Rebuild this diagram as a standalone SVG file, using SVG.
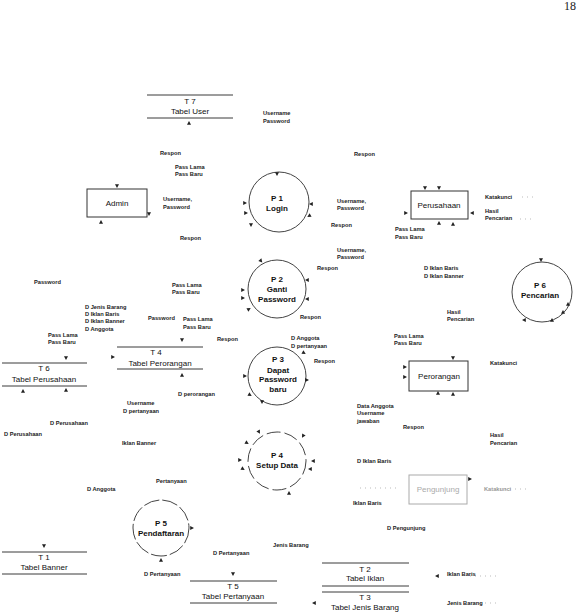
<svg xmlns="http://www.w3.org/2000/svg" width="587" height="613" viewBox="0 0 587 613">
<style>
.bg{fill:#fff}
.ln{stroke:#3a3a3a;stroke-width:1;fill:none}
.pc{stroke:#444;stroke-width:1;fill:none}
.bx{stroke:#333;stroke-width:1;fill:#fff}
.faint{stroke:#aaa;stroke-width:1;fill:none}
.t8{font-family:"Liberation Sans",Arial,sans-serif;font-size:8px;fill:#111;text-anchor:middle}
.tb{font-family:"Liberation Sans",Arial,sans-serif;font-size:8px;font-weight:bold;fill:#111;text-anchor:middle}
.lb{font-family:"Liberation Sans",Arial,sans-serif;font-size:5.7px;font-weight:bold;fill:#222}
.fl{fill:#999}
.ah{fill:#222}
.dots{stroke:#bbb;stroke-width:1;stroke-dasharray:1 4;fill:none}
</style>
<defs>
<path id="a" d="M-2,-1.8 L2,-1.8 L0,2 Z"/>
</defs>
<rect class="bg" width="587" height="613"/>
<text x="570" y="10" style="font-family:'Liberation Serif',serif;font-size:12px;fill:#222" text-anchor="middle">18</text>

<g id="T7"><line class="ln" x1="147" y1="95" x2="233" y2="95"/><line class="ln" x1="147" y1="118" x2="233" y2="118"/><text class="t8" x="190" y="104">T 7</text><text class="t8" x="190" y="114">Tabel User</text></g>
<g id="Admin"><rect class="bx" x="87" y="189" width="60" height="28"/><text class="t8" x="117" y="206">Admin</text></g>
<g id="P1"><circle class="pc" cx="279" cy="202" r="30"/><text class="tb" x="277" y="201">P 1</text><text class="tb" x="277" y="211">Login</text></g>
<g id="Perusahaan"><rect class="bx" x="411" y="191" width="57" height="28"/><text class="t8" x="439" y="208">Perusahaan</text></g>
<g id="P2"><circle class="pc" cx="277" cy="289" r="29"/><text class="tb" x="277" y="282">P 2</text><text class="tb" x="277" y="292">Ganti</text><text class="tb" x="277" y="302">Password</text></g>
<g id="P6"><circle class="pc" cx="542" cy="292" r="30"/><text class="tb" x="540" y="288">P 6</text><text class="tb" x="540" y="298">Pencarian</text></g>
<g id="T6"><line class="ln" x1="2" y1="363" x2="87" y2="363"/><line class="ln" x1="2" y1="386" x2="87" y2="386"/><text class="t8" x="44" y="371">T 6</text><text class="t8" x="44" y="382">Tabel Perusahaan</text></g>
<g id="T4"><line class="ln" x1="117" y1="347" x2="203" y2="347"/><line class="ln" x1="117" y1="369" x2="203" y2="369"/><text class="t8" x="156" y="355">T 4</text><text class="t8" x="160" y="366">Tabel Perorangan</text></g>
<g id="P3"><circle class="pc" cx="277" cy="376" r="29"/><text class="tb" x="278" y="362">P 3</text><text class="tb" x="278" y="373">Dapat</text><text class="tb" x="278" y="382">Password</text><text class="tb" x="278" y="392">baru</text></g>
<g id="Perorangan"><rect class="bx" x="409" y="361" width="59" height="30"/><text class="t8" x="439" y="379">Perorangan</text></g>
<g id="P4"><circle class="pc" cx="277" cy="461" r="29" stroke-dasharray="14 4"/><text class="tb" x="277" y="458">P 4</text><text class="tb" x="277" y="468">Setup Data</text></g>
<g id="Pengunjung"><rect class="faint" x="409" y="475" width="58" height="29"/><text class="t8" x="438" y="492" style="fill:#aaa">Pengunjung</text></g>
<g id="P5"><circle class="pc" cx="161" cy="528" r="28" stroke-dasharray="16 3"/><text class="tb" x="161" y="526">P 5</text><text class="tb" x="161" y="536">Pendaftaran</text></g>
<g id="T1"><line class="ln" x1="2" y1="552" x2="87" y2="552"/><line class="ln" x1="2" y1="574" x2="87" y2="574"/><text class="t8" x="44" y="560">T 1</text><text class="t8" x="44" y="570">Tabel Banner</text></g>
<g id="T5"><line class="ln" x1="190" y1="581" x2="277" y2="581"/><line class="ln" x1="190" y1="603" x2="277" y2="603"/><text class="t8" x="233" y="589">T 5</text><text class="t8" x="233" y="599">Tabel Pertanyaan</text></g>
<g id="T2"><line class="ln" x1="322" y1="563" x2="409" y2="563"/><line class="ln" x1="322" y1="586" x2="409" y2="586"/><text class="t8" x="365" y="572">T 2</text><text class="t8" x="365" y="581">Tabel Iklan</text></g>
<g id="T3"><line class="ln" x1="322" y1="592" x2="409" y2="592"/><text class="t8" x="365" y="600">T 3</text><text class="t8" x="365" y="610">Tabel Jenis Barang</text></g>

<g id="connectors">
<path class="dots" d="M522,197 H536 M520,219 H532 M360,488 H400 M500,489 H530 M470,576 H500 M470,603 H500"/>
<g class="ah">
<use href="#a" transform="translate(189,123) rotate(180)"/>
<use href="#a" transform="translate(117,186)"/>
<use href="#a" transform="translate(149,214)"/>
<use href="#a" transform="translate(101,222) rotate(180)"/>
<use href="#a" transform="translate(277,174)"/>
<use href="#a" transform="translate(245,203) rotate(-90)"/>
<use href="#a" transform="translate(246,213) rotate(-90)"/>
<use href="#a" transform="translate(251,225)"/>
<use href="#a" transform="translate(311,204) rotate(90)"/>
<use href="#a" transform="translate(309,216) rotate(60)"/>
<use href="#a" transform="translate(425,188)"/>
<use href="#a" transform="translate(439,188)"/>
<use href="#a" transform="translate(406,213) rotate(-90)"/>
<use href="#a" transform="translate(472,213) rotate(90)"/>
<use href="#a" transform="translate(439,223) rotate(180)"/>
<use href="#a" transform="translate(453,224) rotate(180)"/>
<use href="#a" transform="translate(261,261) rotate(-40)"/>
<use href="#a" transform="translate(243,290) rotate(-90)"/>
<use href="#a" transform="translate(243,298) rotate(-90)"/>
<use href="#a" transform="translate(249,309) rotate(-120)"/>
<use href="#a" transform="translate(307,280) rotate(90)"/>
<use href="#a" transform="translate(307,299) rotate(90)"/>
<use href="#a" transform="translate(541,260)"/>
<use href="#a" transform="translate(568,304) rotate(180)"/>
<use href="#a" transform="translate(563,312) rotate(180)"/>
<use href="#a" transform="translate(552,320) rotate(180)"/>
<use href="#a" transform="translate(524,320) rotate(90)"/>
<use href="#a" transform="translate(182,340)"/>
<use href="#a" transform="translate(113,357) rotate(-90)"/>
<use href="#a" transform="translate(182,375) rotate(180)"/>
<use href="#a" transform="translate(66,358)"/>
<use href="#a" transform="translate(23,391) rotate(180)"/>
<use href="#a" transform="translate(66,390) rotate(180)"/>
<use href="#a" transform="translate(304,353) rotate(-60)"/>
<use href="#a" transform="translate(307,380) rotate(-90)"/>
<use href="#a" transform="translate(245,376) rotate(-90)"/>
<use href="#a" transform="translate(250,395) rotate(-60)"/>
<use href="#a" transform="translate(262,402)"/>
<use href="#a" transform="translate(453,358)"/>
<use href="#a" transform="translate(405,367) rotate(-90)"/>
<use href="#a" transform="translate(405,377) rotate(-90)"/>
<use href="#a" transform="translate(438,393) rotate(180)"/>
<use href="#a" transform="translate(453,394) rotate(180)"/>
<use href="#a" transform="translate(240,460) rotate(-90)"/>
<use href="#a" transform="translate(243,469) rotate(-60)"/>
<use href="#a" transform="translate(247,443) rotate(-60)"/>
<use href="#a" transform="translate(259,432) rotate(-30)"/>
<use href="#a" transform="translate(303,436) rotate(30)"/>
<use href="#a" transform="translate(313,461) rotate(90)"/>
<use href="#a" transform="translate(310,469) rotate(90)"/>
<use href="#a" transform="translate(289,493) rotate(180)"/>
<use href="#a" transform="translate(192,528) rotate(-90)"/>
<use href="#a" transform="translate(161,560) rotate(180)"/>
<use href="#a" transform="translate(44,546)"/>
<use href="#a" transform="translate(233,574)"/>
<use href="#a" transform="translate(314,603) rotate(90)"/>
<use href="#a" transform="translate(470,479) rotate(-90)"/>
<use href="#a" transform="translate(437,576) rotate(90)"/>
</g>
</g>

<g id="labels">
<text class="lb" x="263" y="115">Username</text><text class="lb" x="263" y="123">Password</text>
<text class="lb" x="160" y="155">Respon</text>
<text class="lb" x="175" y="169">Pass Lama</text><text class="lb" x="175" y="176">Pass Baru</text>
<text class="lb" x="163" y="201">Username,</text><text class="lb" x="163" y="209">Password</text>
<text class="lb" x="180" y="240">Respon</text>
<text class="lb" x="354" y="156">Respon</text>
<text class="lb" x="337" y="203">Username,</text><text class="lb" x="337" y="210">Password</text>
<text class="lb" x="331" y="227">Respon</text>
<text class="lb" x="337" y="252">Username,</text><text class="lb" x="337" y="259">Password</text>
<text class="lb" x="317" y="270">Respon</text>
<text class="lb" x="395" y="231">Pass Lama</text><text class="lb" x="395" y="239">Pass Baru</text>
<text class="lb" x="485" y="199">Katakunci</text>
<text class="lb" x="485" y="213">Hasil</text><text class="lb" x="485" y="220">Pencarian</text>
<text class="lb" x="424" y="270">D Iklan Baris</text><text class="lb" x="424" y="278">D Iklan Banner</text>
<text class="lb" x="34" y="284">Password</text>
<text class="lb" x="85" y="309">D Jenis Barang</text><text class="lb" x="85" y="316">D Iklan Baris</text><text class="lb" x="85" y="323">D Iklan Banner</text><text class="lb" x="85" y="331">D Anggota</text>
<text class="lb" x="172" y="287">Pass Lama</text><text class="lb" x="172" y="294">Pass Baru</text>
<text class="lb" x="148" y="320">Password</text>
<text class="lb" x="183" y="321">Pass Lama</text><text class="lb" x="183" y="329">Pass Baru</text>
<text class="lb" x="217" y="341">Respon</text>
<text class="lb" x="48" y="337">Pass Lama</text><text class="lb" x="48" y="344">Pass Baru</text>
<text class="lb" x="300" y="319">Respon</text>
<text class="lb" x="291" y="340">D Anggota</text><text class="lb" x="291" y="348">D pertanyaan</text>
<text class="lb" x="314" y="363">Respon</text>
<text class="lb" x="447" y="314">Hasil</text><text class="lb" x="447" y="321">Pencarian</text>
<text class="lb" x="394" y="338">Pass Lama</text><text class="lb" x="394" y="345">Pass Baru</text>
<text class="lb" x="490" y="365">Katakunci</text>
<text class="lb" x="178" y="396">D perorangan</text>
<text class="lb" x="127" y="405">Username</text><text class="lb" x="123" y="413">D pertanyaan</text>
<text class="lb" x="50" y="425">D Perusahaan</text>
<text class="lb" x="4" y="436">D Perusahaan</text>
<text class="lb" x="357" y="408">Data Anggota</text><text class="lb" x="357" y="415">Username</text><text class="lb" x="357" y="423">jawaban</text>
<text class="lb" x="403" y="429">Respon</text>
<text class="lb" x="490" y="437">Hasil</text><text class="lb" x="490" y="445">Pencarian</text>
<text class="lb" x="122" y="445">Iklan Banner</text>
<text class="lb" x="357" y="463">D Iklan Baris</text>
<text class="lb" x="156" y="483">Pertanyaan</text>
<text class="lb" x="87" y="491">D Anggota</text>
<text class="lb fl" x="484" y="491">Katakunci</text>
<text class="lb" x="353" y="505">Iklan Baris</text>
<text class="lb" x="387" y="530">D Pengunjung</text>
<text class="lb" x="273" y="547">Jenis Barang</text>
<text class="lb" x="213" y="555">D Pertanyaan</text>
<text class="lb" x="144" y="576">D Pertanyaan</text>
<text class="lb" x="447" y="576">Iklan Baris</text>
<text class="lb" x="447" y="605">Jenis Barang</text>
</g>
</svg>
